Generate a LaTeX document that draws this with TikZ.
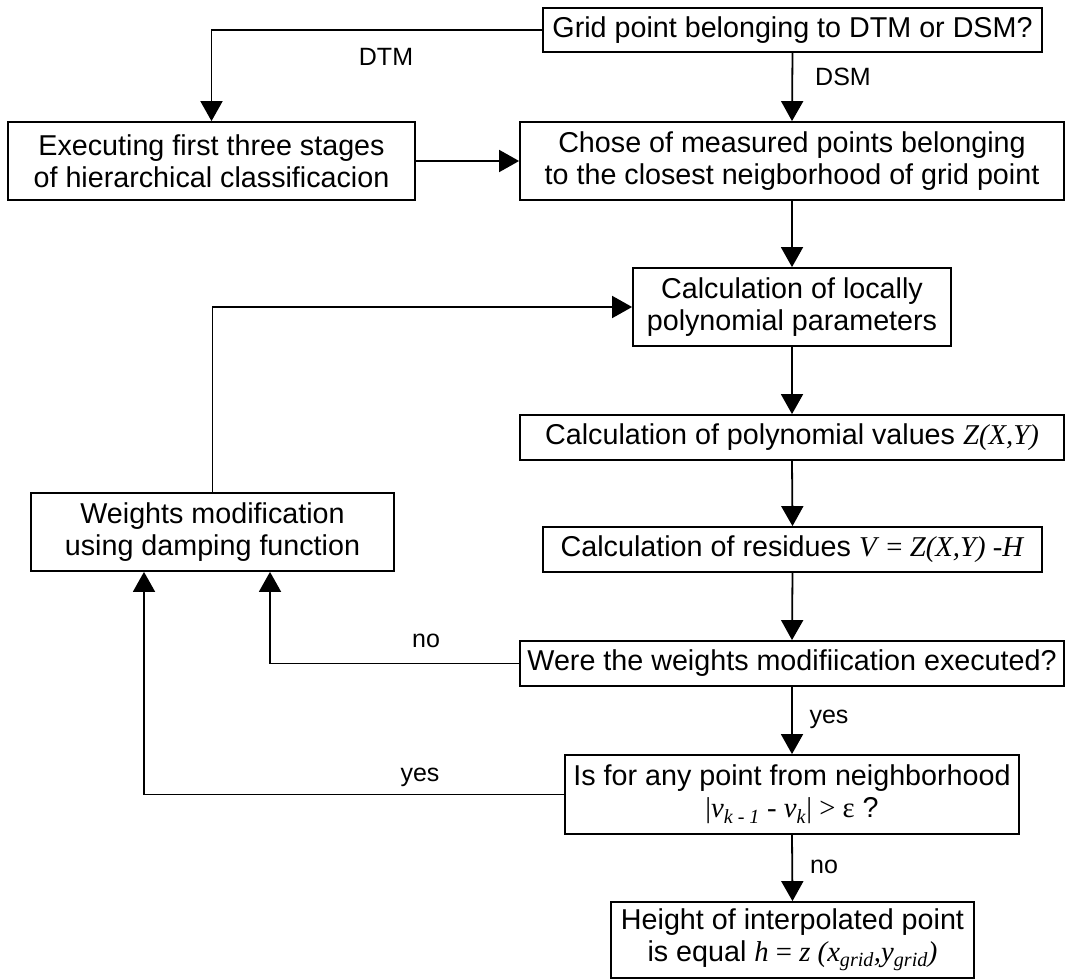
\documentclass[tikz,border=0pt]{standalone}
\usepackage{fontspec}
\setmainfont{Liberation Sans}
\newfontfamily\tms{Liberation Serif}
\usetikzlibrary{arrows.meta}
\tikzset{
  box/.style={draw, line width=1.8pt, inner sep=0pt, align=center, font=\fontsize{28.7}{32}\selectfont},
  arr/.style={line width=1.8pt, -{Triangle[length=20pt,width=22pt]}},
  lbl/.style={font=\fontsize{25}{28}\selectfont, inner sep=0pt}
}
\begin{document}
\begin{tikzpicture}[x=1pt,y=-1pt]
\useasboundingbox[fill=white] (0,0) rectangle (1068,979);
\node[box, minimum width=499pt, minimum height=44pt] (b1) at (792.5,30) {Grid point belonging to DTM or DSM?};
\node[box, minimum width=407pt, minimum height=78pt] (b2) at (211.5,161) {Executing first three stages\\of hierarchical classificacion};
\node[box, minimum width=544pt, minimum height=78pt] (b3) at (792,161) {Chose of measured points belonging\\to the closest neigborhood of grid point};
\node[box, minimum width=318pt, minimum height=78pt] (b4) at (792,307) {Calculation of locally\\polynomial parameters};
\node[box, minimum width=544pt, minimum height=45pt] (b5) at (792,437.5) {Calculation of polynomial values {\tms\textit{Z(X,Y)}}};
\node[box, minimum width=363pt, minimum height=78pt] (b6) at (212.5,532) {Weights modification\\using damping function};
\node[box, minimum width=499pt, minimum height=45pt] (b7) at (792.5,549.5) {Calculation of residues {\tms\textit{V} = \textit{Z(X,Y) -H}}};
\node[box, minimum width=544pt, minimum height=45pt] (b8) at (792,663.5) {Were the weights modifiication executed?};
\node[box, minimum width=454pt, minimum height=79pt] (b9) at (792,794.5) {Is for any point from neighborhood\\{\tms |\textit{v}\textsubscript{\textit{k - 1}} - \textit{v}\textsubscript{\textit{k}}| > ε} ?};
\node[box, minimum width=363pt, minimum height=76pt] (b10) at (792.5,940) {Height of interpolated point\\is equal {\tms\textit{h} = \textit{z (x\textsubscript{grid},y\textsubscript{grid})}}};

\draw[arr] (b1.south) -- (b3.north);
\draw[arr] (b1.west) -| (b2.north);
\draw[arr] (b2.east) -- (b3.west);
\draw[arr] (b3.south) -- (b4.north);
\draw[arr] (b4.south) -- (b5.north);
\draw[arr] (b5.south) -- (b7.north);
\draw[arr] (b7.south) -- (b8.north);
\draw[arr] (b8.south) -- (b9.north);
\draw[arr] (b9.south) -- (b10.north);
\draw[arr] (b8.west) -| ([xshift=57.5pt]b6.south);
\draw[arr] (b9.west) -| ([xshift=-68.5pt]b6.south);
\draw[arr] (b6.north) |- (b4.west);

\node[lbl] (ldtm) at (386,57) {DTM};
\node[lbl] (ldsm) at (843,77) {DSM};
\node[lbl] (lno1) at (426,641) {no};
\node[lbl] (lyes1) at (829,719) {yes};
\node[lbl] (lyes2) at (420,777) {yes};
\node[lbl] (lno2) at (824,867) {no};
\end{tikzpicture}
\end{document}
